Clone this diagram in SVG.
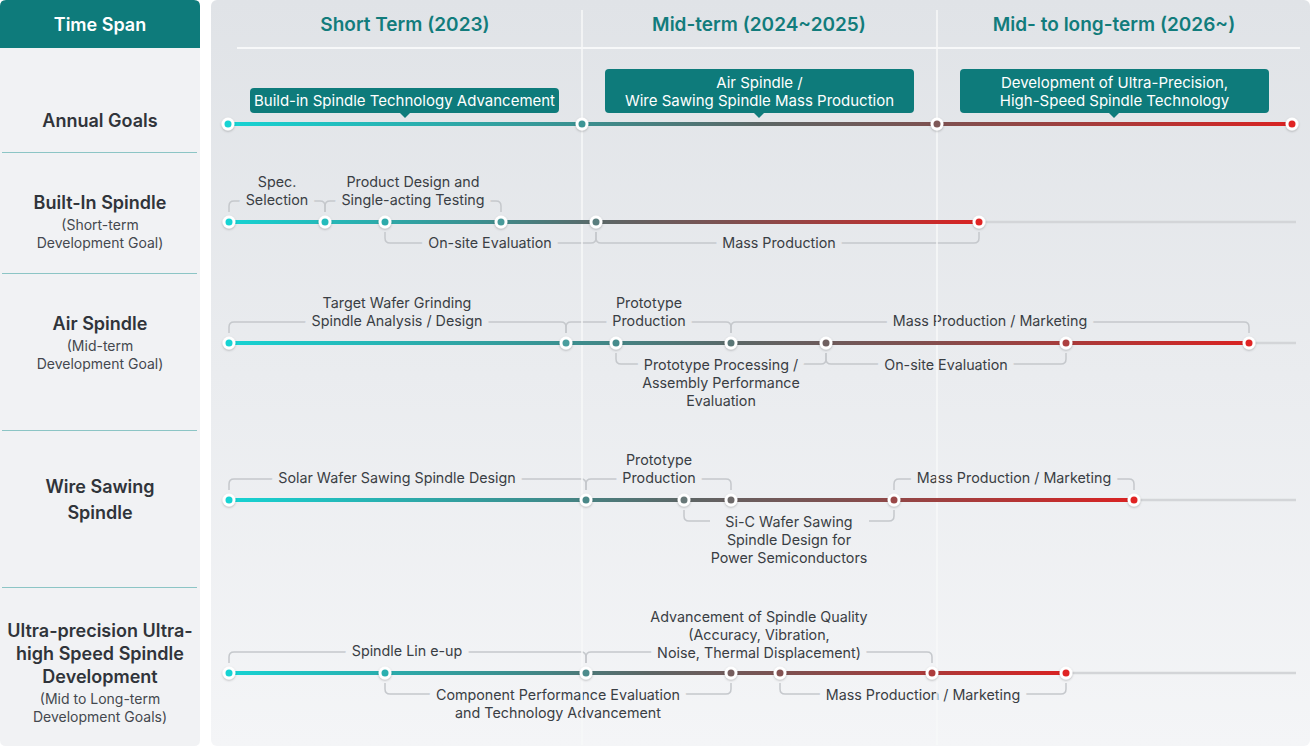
<svg xmlns="http://www.w3.org/2000/svg" width="1310" height="746" viewBox="0 0 1310 746">
<defs>
<linearGradient id="bg" gradientUnits="userSpaceOnUse" x1="0" y1="0" x2="0" y2="746">
<stop offset="0" stop-color="#e0e3e7"/>
<stop offset="1" stop-color="#f4f5f7"/>
</linearGradient>
<linearGradient id="tl" x1="0" y1="0" x2="1" y2="0">
<stop offset="0" stop-color="#16d3d3"/>
<stop offset="0.33" stop-color="#3a9090"/>
<stop offset="0.5" stop-color="#5c6666"/>
<stop offset="0.67" stop-color="#7e5050"/>
<stop offset="1" stop-color="#d92222"/>
</linearGradient>
<filter id="sh" x="-50%" y="-50%" width="200%" height="200%">
<feDropShadow dx="0" dy="1" stdDeviation="1" flood-color="#000" flood-opacity="0.25"/>
</filter>
<style>
text{font-family:Inter,"Noto Sans","Liberation Sans",sans-serif}
.hdr{font-size:19px;font-weight:600;fill:#127c7c;text-anchor:middle}
.ttl{font-size:18px;font-weight:600;fill:#30343a;text-anchor:middle}
.sub{font-size:14px;font-weight:400;fill:#44484e;text-anchor:middle}
.lbl,.lb2{font-size:14.3px;font-weight:400;fill:#3a3e44;text-anchor:middle}
.lbl{stroke:url(#bg);stroke-width:14px;paint-order:stroke;stroke-linejoin:round}
.brk{fill:none;stroke:#c5c8cc;stroke-width:1.5}
.co{fill:#0e7b7b}
.cot{font-size:15px;font-weight:400;fill:#ffffff;text-anchor:middle}
.nd{fill:#ffffff;filter:url(#sh)}
.rest{fill:#d3d5d8}
.sep{stroke:#8cc5c5;stroke-width:1}
.vl{stroke:#f7f8f9;stroke-width:1.5}
</style>
</defs>
<rect width="1310" height="746" fill="#ffffff"/>
<!-- left column -->
<g id="left-panel">
<path d="M0,48 H200 V740 Q200,746 194,746 H6 Q0,746 0,740 Z" fill="#f1f2f4"/>
<path d="M0,48 V6 Q0,0 6,0 H194 Q200,0 200,6 V48 Z" fill="#0e7b7b"/>
<text x="100" y="31" class="hdr" style="fill:#ffffff;font-size:18px">Time Span</text>
<line class="sep" x1="2" y1="152.5" x2="197" y2="152.5"/>
<line class="sep" x1="2" y1="273.5" x2="197" y2="273.5"/>
<line class="sep" x1="2" y1="430.5" x2="197" y2="430.5"/>
<line class="sep" x1="2" y1="587.5" x2="197" y2="587.5"/>
</g>
<g id="row-annual"><text x="100" y="127" class="ttl">Annual Goals</text></g>
<g id="row-builtin"><text x="100" y="209" class="ttl">Built-In Spindle</text><text x="100" y="230" class="sub">(Short-term</text><text x="100" y="248" class="sub">Development Goal)</text></g>
<g id="row-air"><text x="100" y="330" class="ttl">Air Spindle</text><text x="100" y="351" class="sub">(Mid-term</text><text x="100" y="369" class="sub">Development Goal)</text></g>
<g id="row-wire"><text x="100" y="493" class="ttl">Wire Sawing</text><text x="100" y="519" class="ttl">Spindle</text></g>
<g id="row-ultra"><text x="100" y="637" class="ttl">Ultra-precision Ultra-</text><text x="100" y="660" class="ttl">high Speed Spindle</text><text x="100" y="683" class="ttl">Development</text><text x="100" y="704" class="sub">(Mid to Long-term</text><text x="100" y="722" class="sub">Development Goals)</text></g>
<!-- right panel -->
<g id="right-panel">
<rect x="211" y="0" width="1099" height="746" rx="6" fill="url(#bg)"/>
<text x="405" y="31" class="hdr">Short Term (2023)</text>
<text x="759" y="31" class="hdr">Mid-term (2024~2025)</text>
<text x="1114" y="31" class="hdr">Mid- to long-term (2026~)</text>
</g>
<!-- connectors: brackets -->
<g id="connectors">
<path class="brk" d="M229,212 V206 Q229,201 234,201 H320 Q325,201 325,206 V212"/>
<path class="brk" d="M325,212 V206 Q325,201 330,201 H496 Q501,201 501,206 V212"/>
<path class="brk" d="M385,232 V238 Q385,243 390,243 H591 Q596,243 596,238 V232"/>
<path class="brk" d="M596,232 V238 Q596,243 601,243 H974 Q979,243 979,238 V232"/>
<path class="brk" d="M229,333 V327 Q229,322 234,322 H561 Q566,322 566,327 V333"/>
<path class="brk" d="M566,333 V327 Q566,322 571,322 H726 Q731,322 731,327 V333"/>
<path class="brk" d="M731,333 V327 Q731,322 736,322 H1244 Q1249,322 1249,327 V333"/>
<path class="brk" d="M616,353 V359 Q616,364 621,364 H821 Q826,364 826,359 V353"/>
<path class="brk" d="M826,353 V359 Q826,364 831,364 H1061 Q1066,364 1066,359 V353"/>
<path class="brk" d="M229,490 V484 Q229,479 234,479 H581 Q586,479 586,484 V490"/>
<path class="brk" d="M586,490 V484 Q586,479 591,479 H726 Q731,479 731,484 V490"/>
<path class="brk" d="M894,490 V484 Q894,479 899,479 H1129 Q1134,479 1134,484 V490"/>
<path class="brk" d="M684,510 V516 Q684,521 689,521 H710 M869,521 H889 Q894,521 894,516 V510"/>
<path class="brk" d="M229,663 V657 Q229,652 234,652 H581 Q586,652 586,657 V663"/>
<path class="brk" d="M586,663 V657 Q586,652 591,652 H927 Q932,652 932,657 V663"/>
<path class="brk" d="M385,683 V689 Q385,694 390,694 H726 Q731,694 731,689 V683"/>
<path class="brk" d="M780,683 V689 Q780,694 785,694 H1061 Q1066,694 1066,689 V683"/>
</g>
<!-- task labels (the line that sits on a bracket masks it; it is drawn first) -->
<g id="task-spec"><text x="277" y="205" class="lbl">Selection</text><text x="277" y="187" class="lb2">Spec.</text></g>
<g id="task-product"><text x="413" y="205" class="lbl">Single-acting Testing</text><text x="413" y="187" class="lb2">Product Design and</text></g>
<g id="task-onsite1"><text x="490" y="248" class="lbl">On-site Evaluation</text></g>
<g id="task-mass1"><text x="779" y="248" class="lbl">Mass Production</text></g>
<g id="task-target"><text x="397" y="326" class="lbl">Spindle Analysis / Design</text><text x="397" y="308" class="lb2">Target Wafer Grinding</text></g>
<g id="task-proto1"><text x="649" y="326" class="lbl">Production</text><text x="649" y="308" class="lb2">Prototype</text></g>
<g id="task-mass2"><text x="990" y="326" class="lbl">Mass Production / Marketing</text></g>
<g id="task-protoproc"><text x="721" y="370" class="lbl">Prototype Processing /</text><text x="721" y="388" class="lb2">Assembly Performance</text><text x="721" y="406" class="lb2">Evaluation</text></g>
<g id="task-onsite2"><text x="946" y="370" class="lbl">On-site Evaluation</text></g>
<g id="task-solar"><text x="397" y="483" class="lbl">Solar Wafer Sawing Spindle Design</text></g>
<g id="task-proto2"><text x="659" y="483" class="lbl">Production</text><text x="659" y="465" class="lb2">Prototype</text></g>
<g id="task-mass3"><text x="1014" y="483" class="lbl">Mass Production / Marketing</text></g>
<g id="task-sic"><text x="789" y="527" class="lb2">Si-C Wafer Sawing</text><text x="789" y="545" class="lb2">Spindle Design for</text><text x="789" y="563" class="lb2">Power Semiconductors</text></g>
<g id="task-lineup"><text x="407" y="656" class="lbl">Spindle Lin e-up</text></g>
<g id="task-quality"><text x="759" y="658" class="lbl">Noise, Thermal Displacement)</text><text x="759" y="622" class="lb2">Advancement of Spindle Quality</text><text x="759" y="640" class="lb2">(Accuracy, Vibration,</text></g>
<g id="task-component"><text x="558" y="700" class="lbl">Component Performance Evaluation</text><text x="558" y="718" class="lb2">and Technology Advancement</text></g>
<g id="task-mass4"><text x="923" y="700" class="lbl">Mass Production / Marketing</text></g>
<!-- grid lines -->
<g id="grid">
<line class="vl" x1="582" y1="10" x2="582" y2="745"/>
<line class="vl" x1="937" y1="10" x2="937" y2="745"/>
<line x1="237" y1="48" x2="1300" y2="48" stroke="#f7f8f9" stroke-width="2"/>
</g>
<!-- timelines -->
<g id="timelines">
<rect x="228" y="122" width="1064" height="4" rx="2" fill="url(#tl)"/>
<rect class="rest" x="979" y="220.75" width="317" height="2.5"/>
<rect x="228" y="220" width="751" height="4" rx="2" fill="url(#tl)"/>
<rect class="rest" x="1249" y="341.75" width="47" height="2.5"/>
<rect x="228" y="341" width="1021" height="4" rx="2" fill="url(#tl)"/>
<rect class="rest" x="1134" y="498.75" width="162" height="2.5"/>
<rect x="228" y="498" width="906" height="4" rx="2" fill="url(#tl)"/>
<rect class="rest" x="1066" y="671.75" width="230" height="2.5"/>
<rect x="228" y="671" width="838" height="4" rx="2" fill="url(#tl)"/>
</g>
<!-- milestone nodes -->
<g id="nodes-annual">
<circle class="nd" cx="228" cy="124" r="6.5"/><circle cx="228" cy="124" r="3.5" fill="#16d3d3"/>
<circle class="nd" cx="582" cy="124" r="6.5"/><circle cx="582" cy="124" r="3.5" fill="#3d9595"/>
<circle class="nd" cx="937" cy="124" r="6.5"/><circle cx="937" cy="124" r="3.5" fill="#7e5858"/>
<circle class="nd" cx="1292" cy="124" r="6.5"/><circle cx="1292" cy="124" r="3.5" fill="#e02424"/>
</g>
<g id="nodes-builtin">
<circle class="nd" cx="229" cy="222" r="6.5"/><circle cx="229" cy="222" r="3.5" fill="#16d3d3"/>
<circle class="nd" cx="325" cy="222" r="6.5"/><circle cx="325" cy="222" r="3.5" fill="#24bcbc"/>
<circle class="nd" cx="385" cy="222" r="6.5"/><circle cx="385" cy="222" r="3.5" fill="#2daaaa"/>
<circle class="nd" cx="501" cy="222" r="6.5"/><circle cx="501" cy="222" r="3.5" fill="#489a9a"/>
<circle class="nd" cx="596" cy="222" r="6.5"/><circle cx="596" cy="222" r="3.5" fill="#5a7e7e"/>
<circle class="nd" cx="979" cy="222" r="6.5"/><circle cx="979" cy="222" r="3.5" fill="#e02424"/>
</g>
<g id="nodes-air">
<circle class="nd" cx="229" cy="343" r="6.5"/><circle cx="229" cy="343" r="3.5" fill="#16d3d3"/>
<circle class="nd" cx="566" cy="343" r="6.5"/><circle cx="566" cy="343" r="3.5" fill="#4a9e9e"/>
<circle class="nd" cx="616" cy="343" r="6.5"/><circle cx="616" cy="343" r="3.5" fill="#468c8c"/>
<circle class="nd" cx="731" cy="343" r="6.5"/><circle cx="731" cy="343" r="3.5" fill="#5a7676"/>
<circle class="nd" cx="826" cy="343" r="6.5"/><circle cx="826" cy="343" r="3.5" fill="#6f6060"/>
<circle class="nd" cx="1066" cy="343" r="6.5"/><circle cx="1066" cy="343" r="3.5" fill="#ad4040"/>
<circle class="nd" cx="1249" cy="343" r="6.5"/><circle cx="1249" cy="343" r="3.5" fill="#e02424"/>
</g>
<g id="nodes-wire">
<circle class="nd" cx="229" cy="500" r="6.5"/><circle cx="229" cy="500" r="3.5" fill="#16d3d3"/>
<circle class="nd" cx="586" cy="500" r="6.5"/><circle cx="586" cy="500" r="3.5" fill="#4a8888"/>
<circle class="nd" cx="684" cy="500" r="6.5"/><circle cx="684" cy="500" r="3.5" fill="#687878"/>
<circle class="nd" cx="731" cy="500" r="6.5"/><circle cx="731" cy="500" r="3.5" fill="#6e6a6a"/>
<circle class="nd" cx="894" cy="500" r="6.5"/><circle cx="894" cy="500" r="3.5" fill="#9a4848"/>
<circle class="nd" cx="1134" cy="500" r="6.5"/><circle cx="1134" cy="500" r="3.5" fill="#e02424"/>
</g>
<g id="nodes-ultra">
<circle class="nd" cx="229" cy="673" r="6.5"/><circle cx="229" cy="673" r="3.5" fill="#16d3d3"/>
<circle class="nd" cx="385" cy="673" r="6.5"/><circle cx="385" cy="673" r="3.5" fill="#2bb0b0"/>
<circle class="nd" cx="586" cy="673" r="6.5"/><circle cx="586" cy="673" r="3.5" fill="#4e8c8c"/>
<circle class="nd" cx="731" cy="673" r="6.5"/><circle cx="731" cy="673" r="3.5" fill="#765e5e"/>
<circle class="nd" cx="780" cy="673" r="6.5"/><circle cx="780" cy="673" r="3.5" fill="#835252"/>
<circle class="nd" cx="932" cy="673" r="6.5"/><circle cx="932" cy="673" r="3.5" fill="#ad3c3c"/>
<circle class="nd" cx="1066" cy="673" r="6.5"/><circle cx="1066" cy="673" r="3.5" fill="#e02424"/>
</g>
<!-- callouts -->
<g id="goal-2023">
<rect class="co" x="250" y="88" width="309" height="25" rx="4"/>
<path class="co" d="M399,112 L411,112 L405,118 Z"/>
<text x="404.5" y="106" class="cot">Build-in Spindle Technology Advancement</text>
</g>
<g id="goal-2024">
<rect class="co" x="605" y="69" width="309" height="44" rx="4"/>
<path class="co" d="M753,112 L765,112 L759,118 Z"/>
<text x="759.5" y="87.5" class="cot">Air Spindle /</text>
<text x="759.5" y="105.5" class="cot">Wire Sawing Spindle Mass Production</text>
</g>
<g id="goal-2026">
<rect class="co" x="960" y="69" width="309" height="44" rx="4"/>
<path class="co" d="M1108,112 L1120,112 L1114,118 Z"/>
<text x="1114.5" y="87.5" class="cot">Development of Ultra-Precision,</text>
<text x="1114.5" y="105.5" class="cot">High-Speed Spindle Technology</text>
</g>
</svg>
